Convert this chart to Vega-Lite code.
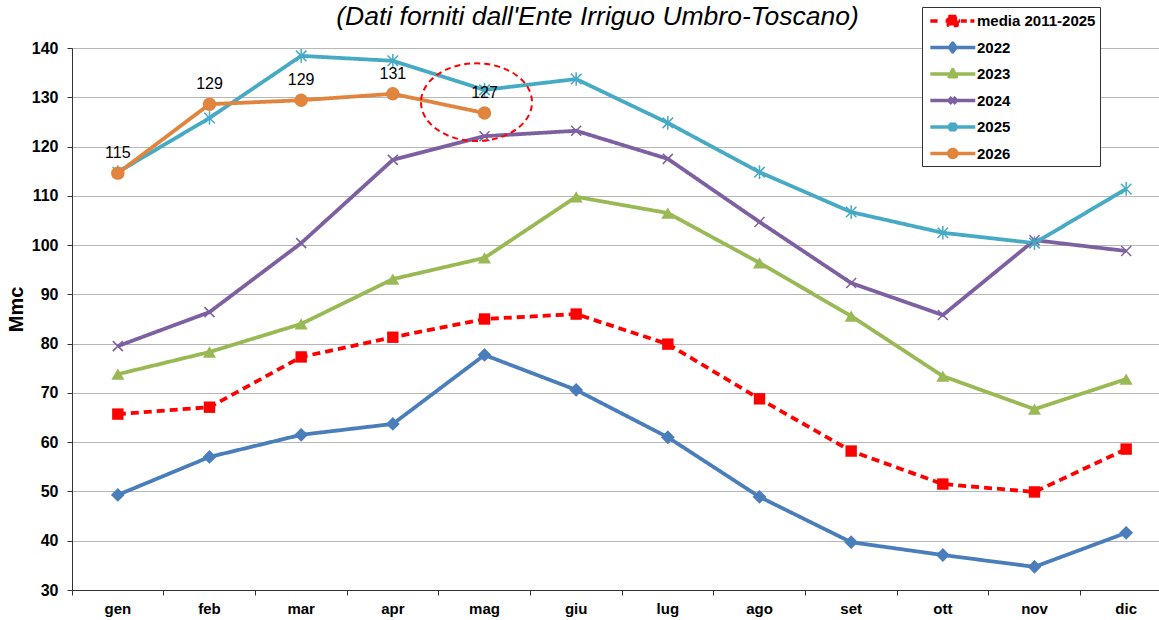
{
  "$schema": "https://vega.github.io/schema/vega-lite/v6.json",
  "autosize": "none",
  "width": 1087,
  "height": 542,
  "padding": {"left": 72, "top": 48, "right": 0, "bottom": 30},
  "background": "white",
  "title": {
    "text": "(Dati forniti dall'Ente Irriguo Umbro-Toscano)",
    "font": "Liberation Sans",
    "fontStyle": "italic",
    "fontWeight": "normal",
    "fontSize": 26.5,
    "color": "black",
    "anchor": "middle",
    "dx": -18,
    "dy": 42,
    "offset": 18
  },
  "config": {
    "view": {"stroke": null},
    "font": "Liberation Sans",
    "legend": {
      "title": null,
      "orient": "none",
      "legendX": 850,
      "legendY": -41,
      "padding": 4,
      "strokeColor": "#333",
      "fillColor": "white",
      "labelFont": "Liberation Sans",
      "labelFontWeight": "bold",
      "labelFontSize": 15,
      "labelColor": "black",
      "labelOffset": 31,
      "rowPadding": 8.5,
      "symbolSize": 256
    }
  },
  "data": {
    "values": [
      {"month": "gen", "series": "media 2011-2025", "value": 65.7},
      {"month": "feb", "series": "media 2011-2025", "value": 67.1},
      {"month": "mar", "series": "media 2011-2025", "value": 77.3},
      {"month": "apr", "series": "media 2011-2025", "value": 81.3},
      {"month": "mag", "series": "media 2011-2025", "value": 85.0},
      {"month": "giu", "series": "media 2011-2025", "value": 86.0},
      {"month": "lug", "series": "media 2011-2025", "value": 79.9},
      {"month": "ago", "series": "media 2011-2025", "value": 68.8},
      {"month": "set", "series": "media 2011-2025", "value": 58.2},
      {"month": "ott", "series": "media 2011-2025", "value": 51.5},
      {"month": "nov", "series": "media 2011-2025", "value": 49.9},
      {"month": "dic", "series": "media 2011-2025", "value": 58.6},
      {"month": "gen", "series": "2022", "value": 49.3},
      {"month": "feb", "series": "2022", "value": 57.0},
      {"month": "mar", "series": "2022", "value": 61.5},
      {"month": "apr", "series": "2022", "value": 63.7},
      {"month": "mag", "series": "2022", "value": 77.7},
      {"month": "giu", "series": "2022", "value": 70.6},
      {"month": "lug", "series": "2022", "value": 61.0},
      {"month": "ago", "series": "2022", "value": 48.9},
      {"month": "set", "series": "2022", "value": 39.7},
      {"month": "ott", "series": "2022", "value": 37.1},
      {"month": "nov", "series": "2022", "value": 34.7},
      {"month": "dic", "series": "2022", "value": 41.6},
      {"month": "gen", "series": "2023", "value": 73.8},
      {"month": "feb", "series": "2023", "value": 78.3},
      {"month": "mar", "series": "2023", "value": 84.0},
      {"month": "apr", "series": "2023", "value": 93.1},
      {"month": "mag", "series": "2023", "value": 97.4},
      {"month": "giu", "series": "2023", "value": 109.8},
      {"month": "lug", "series": "2023", "value": 106.5},
      {"month": "ago", "series": "2023", "value": 96.4},
      {"month": "set", "series": "2023", "value": 85.6},
      {"month": "ott", "series": "2023", "value": 73.4},
      {"month": "nov", "series": "2023", "value": 66.7},
      {"month": "dic", "series": "2023", "value": 72.8},
      {"month": "gen", "series": "2024", "value": 79.5},
      {"month": "feb", "series": "2024", "value": 86.4},
      {"month": "mar", "series": "2024", "value": 100.4},
      {"month": "apr", "series": "2024", "value": 117.3},
      {"month": "mag", "series": "2024", "value": 122.1},
      {"month": "giu", "series": "2024", "value": 123.2},
      {"month": "lug", "series": "2024", "value": 117.5},
      {"month": "ago", "series": "2024", "value": 104.7},
      {"month": "set", "series": "2024", "value": 92.3},
      {"month": "ott", "series": "2024", "value": 85.8},
      {"month": "nov", "series": "2024", "value": 101.0},
      {"month": "dic", "series": "2024", "value": 98.8},
      {"month": "gen", "series": "2025", "value": 114.8},
      {"month": "feb", "series": "2025", "value": 125.8},
      {"month": "mar", "series": "2025", "value": 138.4},
      {"month": "apr", "series": "2025", "value": 137.4},
      {"month": "mag", "series": "2025", "value": 131.5},
      {"month": "giu", "series": "2025", "value": 133.7},
      {"month": "lug", "series": "2025", "value": 124.8},
      {"month": "ago", "series": "2025", "value": 114.8},
      {"month": "set", "series": "2025", "value": 106.7},
      {"month": "ott", "series": "2025", "value": 102.5},
      {"month": "nov", "series": "2025", "value": 100.4},
      {"month": "dic", "series": "2025", "value": 111.4},
      {"month": "gen", "series": "2026", "value": 114.6},
      {"month": "feb", "series": "2026", "value": 128.6},
      {"month": "mar", "series": "2026", "value": 129.4},
      {"month": "apr", "series": "2026", "value": 130.7},
      {"month": "mag", "series": "2026", "value": 126.8}
    ]
  },
  "encoding": {
    "x": {
      "field": "month",
      "type": "ordinal",
      "sort": ["gen", "feb", "mar", "apr", "mag", "giu", "lug", "ago", "set", "ott", "nov", "dic"],
      "scale": {"type": "band", "paddingInner": 0, "paddingOuter": 0, "range": [0, 1100]},
      "axis": {
        "title": null,
        "bandPosition": 0,
        "labelAngle": 0,
        "labelFont": "Liberation Sans",
        "labelFontWeight": "bold",
        "labelFontSize": 15,
        "labelColor": "black",
        "labelPadding": 6,
        "tickSize": 5,
        "tickColor": "#333",
        "domainColor": "#333",
        "grid": false
      }
    },
    "y": {
      "field": "value",
      "type": "quantitative",
      "scale": {"domain": [30, 140], "nice": false, "zero": false},
      "axis": {
        "title": "Mmc",
        "titleFont": "Liberation Sans",
        "titleFontSize": 20,
        "titleFontWeight": "bold",
        "titleColor": "black",
        "titlePadding": 5,
        "titleY": 261,
        "values": [30, 40, 50, 60, 70, 80, 90, 100, 110, 120, 130, 140],
        "labelFont": "Liberation Sans",
        "labelFontWeight": "bold",
        "labelFontSize": 16,
        "labelColor": "black",
        "labelPadding": 9,
        "tickSize": 5,
        "tickColor": "#333",
        "domainColor": "#333",
        "grid": true,
        "gridColor": "#6e6e6e",
        "gridDash": [1, 1],
        "gridWidth": 1
      }
    },
    "color": {
      "field": "series",
      "type": "nominal",
      "scale": {
        "domain": ["media 2011-2025", "2022", "2023", "2024", "2025", "2026"],
        "range": ["#FF0000", "#4A7EBB", "#98B954", "#7D60A0", "#46AAC5", "#E0843E"]
      },
      "legend": {
        "encoding": {
          "symbols": {
            "shape": {"value": {"expr": "datum.value === 'media 2011-2025' ? 'M-0.71,0L0.2,0M1.2,0L3.0,0M3.1,0L3.85,0M4.3,0L4.8,0M1.54,-0.55L2.64,-0.55L2.64,0.55L1.54,0.55ZM2.09,-0.6M2.09,0.6' : datum.value === '2022' ? 'M-0.71,0L4.91,0M2.09,-0.55L2.5,0L2.09,0.55L1.68,0ZM2.09,-0.6M2.09,0.6' : datum.value === '2023' ? 'M-0.71,0L4.91,0M2.09,-0.55L2.55,0.35L1.63,0.35ZM2.09,-0.6M2.09,0.6' : datum.value === '2024' ? 'M-0.71,0L4.91,0M1.69,-0.4L2.49,0.4M1.69,0.4L2.49,-0.4M2.09,-0.6M2.09,0.6' : datum.value === '2025' ? 'M-0.71,0L4.91,0M1.64,-0.45L2.54,0.45M1.64,0.45L2.54,-0.45M2.09,-0.55L2.09,0.55M2.09,-0.6M2.09,0.6' : 'M-0.71,0L4.91,0M1.59,0A0.5,0.5 0 1,0 2.59,0A0.5,0.5 0 1,0 1.59,0M2.09,-0.6M2.09,0.6'"}},
            "fill": {"value": {"expr": "scale('color', datum.value)"}},
            "stroke": {"value": {"expr": "scale('color', datum.value)"}},
            "strokeWidth": {"value": 3.5},
            "strokeJoin": {"value": "round"},
            "strokeDash": {"value": []},
            "opacity": {"value": 1},
            "size": {"value": 256}
          }
        }
      }
    }
  },
  "layer": [
    {
      "mark": {"type": "line", "strokeWidth": 3.8},
      "encoding": {
        "strokeDash": {
          "field": "series",
          "type": "nominal",
          "scale": {
            "domain": ["media 2011-2025", "2022", "2023", "2024", "2025", "2026"],
            "range": [[8, 5], [1, 0], [1, 0], [1, 0], [1, 0], [1, 0]]
          },
          "legend": null
        }
      }
    },
    {
      "transform": [{"filter": "datum.series === 'media 2011-2025'"}],
      "mark": {"type": "point", "shape": "square", "size": 130, "filled": true, "opacity": 1}
    },
    {
      "transform": [{"filter": "datum.series === '2022'"}],
      "mark": {"type": "point", "shape": "diamond", "size": 190, "filled": true, "opacity": 1}
    },
    {
      "transform": [{"filter": "datum.series === '2023'"}],
      "mark": {"type": "point", "shape": "triangle-up", "size": 170, "filled": true, "opacity": 1}
    },
    {
      "transform": [{"filter": "datum.series === '2024'"}],
      "mark": {"type": "point", "shape": "M-1,-1L1,1M-1,1L1,-1", "size": 100, "filled": false, "strokeWidth": 1.5, "opacity": 1}
    },
    {
      "transform": [{"filter": "datum.series === '2025'"}],
      "mark": {"type": "point", "shape": "M-1,-1L1,1M-1,1L1,-1M0,-1.3L0,1.3", "size": 110, "filled": false, "strokeWidth": 1.5, "opacity": 1}
    },
    {
      "transform": [{"filter": "datum.series === '2026'"}],
      "mark": {"type": "point", "shape": "circle", "size": 180, "filled": true, "opacity": 1}
    },
    {
      "transform": [{"filter": "datum.series === '2026'"}],
      "mark": {"type": "text", "dy": -15, "baseline": "alphabetic", "fontSize": 16, "font": "Liberation Sans"},
      "encoding": {
        "text": {"field": "value", "type": "quantitative", "format": ".0f"},
        "color": {"value": "black"}
      }
    },
    {
      "data": {"values": [{"month": "mag", "value": 129}]},
      "mark": {
        "type": "point",
        "shape": "M-1,0A1,0.7 0 1,0 1,0A1,0.7 0 1,0 -1,0",
        "size": 12321,
        "filled": false,
        "strokeWidth": 2,
        "strokeDash": [6, 4],
        "opacity": 1,
        "xOffset": -8
      },
      "encoding": {
        "color": {"value": "#FF0000"}
      }
    }
  ]
}
